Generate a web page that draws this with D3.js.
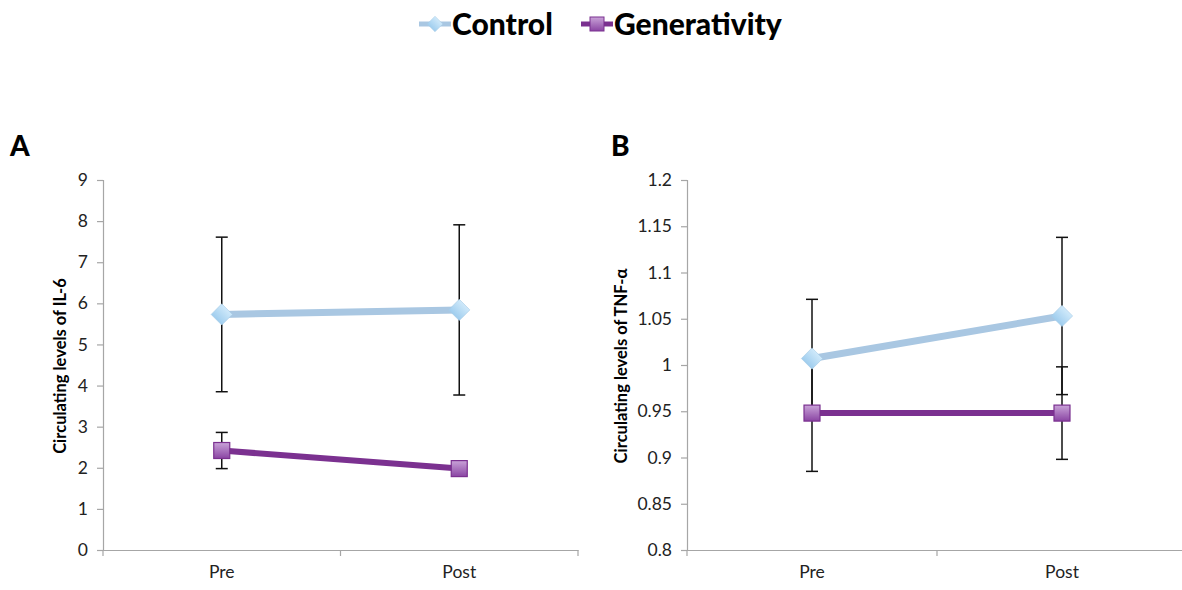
<!DOCTYPE html>
<html><head><meta charset="utf-8">
<script src="https://cdn.jsdelivr.net/npm/d3@7"></script>
<style>body{margin:0;background:#fff}svg{display:block}</style>
</head><body>
<svg id="c" width="1182" height="590"></svg>
<script>
const categories = ["Pre", "Post"];
const seriesNames = ["Control", "Generativity"];
// Panel A: IL-6
const il6Control = [5.73, 5.84];
const il6ControlErr = [1.88, 2.07];
const il6Gen = [2.42, 1.98];
const il6GenErr = [0.44, 0.0];
const il6Ticks = [0,1,2,3,4,5,6,7,8,9];
// Panel B: TNF-alpha
const tnfControl = [1.007, 1.053];
const tnfControlErr = [0.064, 0.085];
const tnfGen = [0.948, 0.948];
const tnfGenErr = [0.063, 0.05];
const tnfTicks = [0.8,0.85,0.9,0.95,1,1.05,1.1,1.15,1.2];

const svg = d3.select("#c");
const font = "'Lato', 'Open Sans', sans-serif";
const ctrlLine = "#a9c7e2", genLine = "#7b3190";

const defs = svg.append("defs");
const g1 = defs.append("linearGradient").attr("id","gq").attr("x1",0).attr("y1",0).attr("x2",0).attr("y2",1);
g1.append("stop").attr("offset","0").attr("stop-color","#c9a3d8");
g1.append("stop").attr("offset","1").attr("stop-color","#8a45a3");
const g2 = defs.append("linearGradient").attr("id","gd").attr("x1",0).attr("y1",0).attr("x2",0).attr("y2",1);
g2.append("stop").attr("offset","0").attr("stop-color","#cfe9fa");
g2.append("stop").attr("offset","1").attr("stop-color","#9fcdee");

// Legend
const leg = svg.append("g");
function legendItem(x, name, isCtrl, textX){
  leg.append("line").attr("x1",x-16).attr("x2",x+16).attr("y1",24).attr("y2",24)
    .attr("stroke", isCtrl?ctrlLine:genLine).attr("stroke-width",5);
  if(isCtrl) leg.append("rect").attr("x",-5.5).attr("y",-5.5).attr("width",11).attr("height",11)
    .attr("transform",`translate(${x},24) rotate(45)`).attr("fill","url(#gd)").attr("stroke","#a7cbe6").attr("stroke-width",0.5);
  else leg.append("rect").attr("x",x-7).attr("y",17).attr("width",14).attr("height",14)
    .attr("fill","url(#gq)").attr("stroke","#7b3190").attr("stroke-width",1);
  leg.append("text").attr("x",textX).attr("y",35).text(name)
    .attr("font-family",font).attr("font-weight",900).attr("font-size",30).attr("fill","#000");
}
legendItem(435, seriesNames[0], true, 452);
legendItem(597, seriesNames[1], false, 614);

function panel(opts){
  const {x0, x1, letter, letterX, title, titleX, domain, ticks, fmt, ctrl, ctrlErr, gen, genErr} = opts;
  const y = d3.scaleLinear().domain(domain).range([550, 180]);
  const x = d3.scaleBand().domain(categories).range([x0, x1]);
  const g = svg.append("g");
  const ya = g.append("g").attr("transform",`translate(${x0},0)`)
    .call(d3.axisLeft(y).tickValues(ticks).tickFormat(fmt).tickSize(6).tickPadding(9));
  ya.select(".domain").attr("stroke","#a6a6a6").attr("stroke-width",1.2);
  ya.selectAll(".tick line").attr("stroke","#a6a6a6").attr("stroke-width",1.2);
  ya.selectAll(".tick text").attr("font-family",font).attr("font-size",17.5).attr("fill","#222");
  const xa = g.append("g").attr("transform",`translate(0,550)`)
    .call(d3.axisBottom(x).tickSize(0).tickPadding(16));
  xa.select(".domain").attr("stroke","#a6a6a6").attr("stroke-width",1.2);
  xa.selectAll(".tick text").attr("font-family",font).attr("font-size",17.5).attr("fill","#222");
  const bounds = [x0, x0 + x.bandwidth(), x1];
  g.selectAll(".xt").data(bounds).enter().append("line")
    .attr("x1",d=>d).attr("x2",d=>d).attr("y1",550).attr("y2",556)
    .attr("stroke","#a6a6a6").attr("stroke-width",1.2);
  svg.append("text").attr("x",letterX).attr("y",156).text(letter)
    .attr("font-family",font).attr("font-weight",900).attr("font-size",28);
  svg.append("text").attr("transform",`translate(${titleX},366) rotate(-90)`).attr("text-anchor","middle")
    .text(title).attr("font-family",font).attr("font-weight",700).attr("font-size",16.5);

  const cx = d => x(d) + x.bandwidth()/2;
  function errs(vals, e){
    categories.forEach((c,i)=>{
      if(!e[i]) return;
      const xx = cx(c), top = y(vals[i]+e[i]), bot = y(vals[i]-e[i]);
      g.append("line").attr("x1",xx).attr("x2",xx).attr("y1",top).attr("y2",bot).attr("stroke","#111").attr("stroke-width",1.5);
      [top,bot].forEach(yy=> g.append("line").attr("x1",xx-6).attr("x2",xx+6).attr("y1",yy).attr("y2",yy).attr("stroke","#111").attr("stroke-width",1.5));
    });
  }
  errs(ctrl, ctrlErr); errs(gen, genErr);
  const line = d3.line().x((d,i)=>cx(categories[i])).y(d=>y(d));
  g.append("path").datum(ctrl).attr("d",line).attr("fill","none").attr("stroke",ctrlLine).attr("stroke-width",7);
  g.append("path").datum(gen).attr("d",line).attr("fill","none").attr("stroke",genLine).attr("stroke-width",6);
  ctrl.forEach((v,i)=>{
    g.append("rect").attr("x",-7.5).attr("y",-7.5).attr("width",15).attr("height",15)
      .attr("transform",`translate(${cx(categories[i])},${y(v)}) rotate(45)`)
      .attr("fill","url(#gd)").attr("stroke","#a6cbe6").attr("stroke-width",0.6);
  });
  gen.forEach((v,i)=>{
    g.append("rect").attr("x",cx(categories[i])-8).attr("y",y(v)-8).attr("width",16).attr("height",16)
      .attr("fill","url(#gq)").attr("stroke","#7b3190").attr("stroke-width",1.2);
  });
}

panel({x0:103, x1:578, letter:"A", letterX:10, title:"Circulating levels of IL-6", titleX:66,
  domain:[0,9], ticks:il6Ticks, fmt:d3.format("d"), ctrl:il6Control, ctrlErr:il6ControlErr, gen:il6Gen, genErr:il6GenErr});
panel({x0:687, x1:1187, letter:"B", letterX:611, title:"Circulating levels of TNF-α", titleX:627,
  domain:[0.8,1.2], ticks:tnfTicks, fmt:d=>String(+d.toFixed(2)), ctrl:tnfControl, ctrlErr:tnfControlErr, gen:tnfGen, genErr:tnfGenErr});
</script>
</body></html>
